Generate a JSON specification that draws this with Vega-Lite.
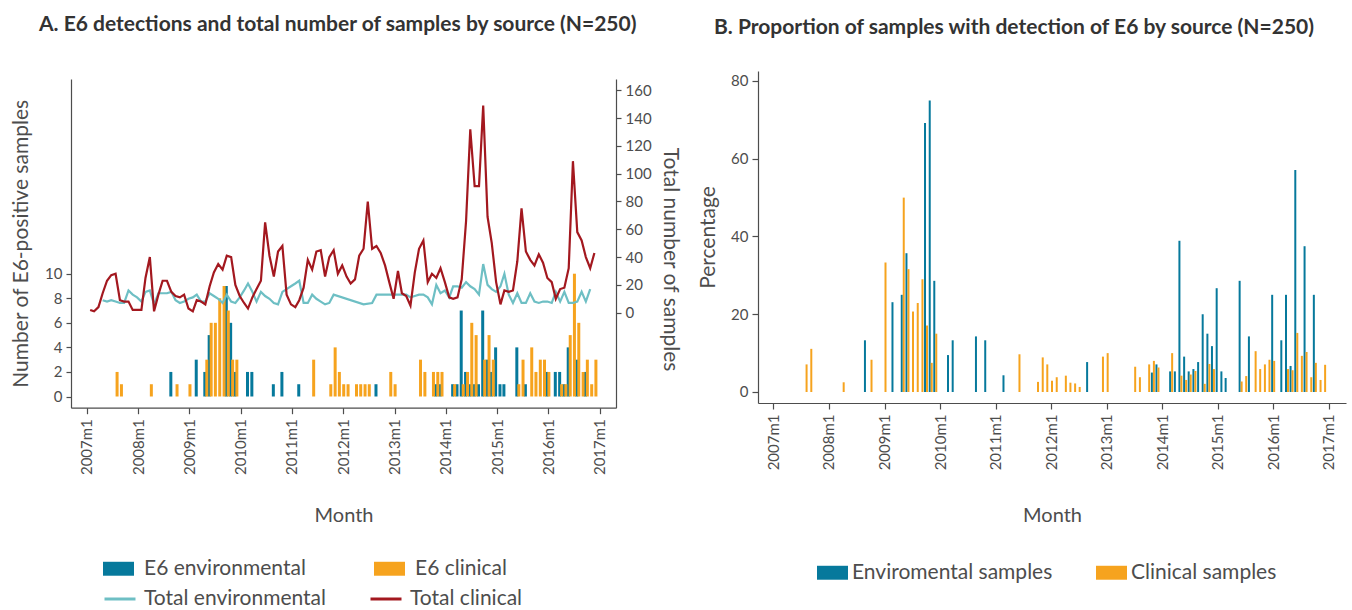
{
  "$schema": "https://vega.github.io/schema/vega-lite/v6.json",
  "background": "white",
  "padding": {"left": 10, "top": 14, "right": 5, "bottom": 0},
  "bounds": "flush",
  "spacing": 142,
  "config": {
    "font": "Lato",
    "view": {"stroke": null},
    "axis": {"grid": false, "domainColor": "#4d4d4d", "tickColor": "#4d4d4d", "labelColor": "#4d4d4d", "titleColor": "#4d4d4d", "titleFontWeight": "normal", "labelFont": "Lato", "titleFont": "Lato", "labelFontSize": 15, "titleFontSize": 21, "domainWidth": 1.2, "tickWidth": 1.2},
    "legend": {"labelFont": "Lato", "labelFontSize": 21, "labelColor": "#4d4d4d", "labelLimit": 400},
    "title": {"font": "Lato", "fontSize": 21, "fontWeight": "bold", "color": "#333333"}
  },
  "datasets": {
    "detections": [
      {"month": "2008-09-01", "source": "E6 environmental", "count": 2},
      {"month": "2009-03-01", "source": "E6 environmental", "count": 3},
      {"month": "2009-05-01", "source": "E6 environmental", "count": 2},
      {"month": "2009-06-01", "source": "E6 environmental", "count": 5},
      {"month": "2009-10-01", "source": "E6 environmental", "count": 9},
      {"month": "2009-11-01", "source": "E6 environmental", "count": 6},
      {"month": "2009-12-01", "source": "E6 environmental", "count": 2},
      {"month": "2010-03-01", "source": "E6 environmental", "count": 2},
      {"month": "2010-04-01", "source": "E6 environmental", "count": 2},
      {"month": "2010-09-01", "source": "E6 environmental", "count": 1},
      {"month": "2010-11-01", "source": "E6 environmental", "count": 2},
      {"month": "2011-03-01", "source": "E6 environmental", "count": 1},
      {"month": "2012-09-01", "source": "E6 environmental", "count": 1},
      {"month": "2013-11-01", "source": "E6 environmental", "count": 1},
      {"month": "2013-12-01", "source": "E6 environmental", "count": 1},
      {"month": "2014-03-01", "source": "E6 environmental", "count": 1},
      {"month": "2014-04-01", "source": "E6 environmental", "count": 1},
      {"month": "2014-05-01", "source": "E6 environmental", "count": 7},
      {"month": "2014-06-01", "source": "E6 environmental", "count": 2},
      {"month": "2014-07-01", "source": "E6 environmental", "count": 1},
      {"month": "2014-08-01", "source": "E6 environmental", "count": 1},
      {"month": "2014-09-01", "source": "E6 environmental", "count": 1},
      {"month": "2014-10-01", "source": "E6 environmental", "count": 7},
      {"month": "2014-11-01", "source": "E6 environmental", "count": 3},
      {"month": "2014-12-01", "source": "E6 environmental", "count": 2},
      {"month": "2015-01-01", "source": "E6 environmental", "count": 4},
      {"month": "2015-02-01", "source": "E6 environmental", "count": 1},
      {"month": "2015-03-01", "source": "E6 environmental", "count": 1},
      {"month": "2015-06-01", "source": "E6 environmental", "count": 4},
      {"month": "2015-08-01", "source": "E6 environmental", "count": 1},
      {"month": "2016-01-01", "source": "E6 environmental", "count": 2},
      {"month": "2016-03-01", "source": "E6 environmental", "count": 2},
      {"month": "2016-04-01", "source": "E6 environmental", "count": 2},
      {"month": "2016-05-01", "source": "E6 environmental", "count": 1},
      {"month": "2016-06-01", "source": "E6 environmental", "count": 4},
      {"month": "2016-08-01", "source": "E6 environmental", "count": 3},
      {"month": "2016-10-01", "source": "E6 environmental", "count": 2},
      {"month": "2007-08-01", "source": "E6 clinical", "count": 2},
      {"month": "2007-09-01", "source": "E6 clinical", "count": 1},
      {"month": "2008-04-01", "source": "E6 clinical", "count": 1},
      {"month": "2008-10-01", "source": "E6 clinical", "count": 1},
      {"month": "2009-01-01", "source": "E6 clinical", "count": 1},
      {"month": "2009-05-01", "source": "E6 clinical", "count": 3},
      {"month": "2009-06-01", "source": "E6 clinical", "count": 6},
      {"month": "2009-07-01", "source": "E6 clinical", "count": 6},
      {"month": "2009-08-01", "source": "E6 clinical", "count": 8},
      {"month": "2009-09-01", "source": "E6 clinical", "count": 9},
      {"month": "2009-10-01", "source": "E6 clinical", "count": 7},
      {"month": "2009-11-01", "source": "E6 clinical", "count": 3},
      {"month": "2009-12-01", "source": "E6 clinical", "count": 3},
      {"month": "2011-06-01", "source": "E6 clinical", "count": 3},
      {"month": "2011-10-01", "source": "E6 clinical", "count": 1},
      {"month": "2011-11-01", "source": "E6 clinical", "count": 4},
      {"month": "2011-12-01", "source": "E6 clinical", "count": 2},
      {"month": "2012-01-01", "source": "E6 clinical", "count": 1},
      {"month": "2012-02-01", "source": "E6 clinical", "count": 1},
      {"month": "2012-04-01", "source": "E6 clinical", "count": 1},
      {"month": "2012-05-01", "source": "E6 clinical", "count": 1},
      {"month": "2012-06-01", "source": "E6 clinical", "count": 1},
      {"month": "2012-07-01", "source": "E6 clinical", "count": 1},
      {"month": "2012-12-01", "source": "E6 clinical", "count": 2},
      {"month": "2013-01-01", "source": "E6 clinical", "count": 1},
      {"month": "2013-07-01", "source": "E6 clinical", "count": 3},
      {"month": "2013-08-01", "source": "E6 clinical", "count": 2},
      {"month": "2013-10-01", "source": "E6 clinical", "count": 2},
      {"month": "2013-11-01", "source": "E6 clinical", "count": 2},
      {"month": "2013-12-01", "source": "E6 clinical", "count": 2},
      {"month": "2014-03-01", "source": "E6 clinical", "count": 1},
      {"month": "2014-05-01", "source": "E6 clinical", "count": 1},
      {"month": "2014-06-01", "source": "E6 clinical", "count": 2},
      {"month": "2014-07-01", "source": "E6 clinical", "count": 6},
      {"month": "2014-08-01", "source": "E6 clinical", "count": 5},
      {"month": "2014-10-01", "source": "E6 clinical", "count": 3},
      {"month": "2014-11-01", "source": "E6 clinical", "count": 5},
      {"month": "2014-12-01", "source": "E6 clinical", "count": 3},
      {"month": "2015-06-01", "source": "E6 clinical", "count": 1},
      {"month": "2015-07-01", "source": "E6 clinical", "count": 3},
      {"month": "2015-09-01", "source": "E6 clinical", "count": 4},
      {"month": "2015-10-01", "source": "E6 clinical", "count": 2},
      {"month": "2015-11-01", "source": "E6 clinical", "count": 3},
      {"month": "2015-12-01", "source": "E6 clinical", "count": 3},
      {"month": "2016-01-01", "source": "E6 clinical", "count": 2},
      {"month": "2016-04-01", "source": "E6 clinical", "count": 1},
      {"month": "2016-05-01", "source": "E6 clinical", "count": 1},
      {"month": "2016-06-01", "source": "E6 clinical", "count": 5},
      {"month": "2016-07-01", "source": "E6 clinical", "count": 10},
      {"month": "2016-08-01", "source": "E6 clinical", "count": 6},
      {"month": "2016-09-01", "source": "E6 clinical", "count": 2},
      {"month": "2016-10-01", "source": "E6 clinical", "count": 3},
      {"month": "2016-11-01", "source": "E6 clinical", "count": 1},
      {"month": "2016-12-01", "source": "E6 clinical", "count": 3}
    ],
    "totals": [
      {"month": "2007-05-01", "series": "Total environmental", "n": 9},
      {"month": "2007-06-01", "series": "Total environmental", "n": 8},
      {"month": "2007-07-01", "series": "Total environmental", "n": 9},
      {"month": "2007-08-01", "series": "Total environmental", "n": 8},
      {"month": "2007-09-01", "series": "Total environmental", "n": 7},
      {"month": "2007-10-01", "series": "Total environmental", "n": 7},
      {"month": "2007-11-01", "series": "Total environmental", "n": 16},
      {"month": "2007-12-01", "series": "Total environmental", "n": 13},
      {"month": "2008-01-01", "series": "Total environmental", "n": 11},
      {"month": "2008-02-01", "series": "Total environmental", "n": 8},
      {"month": "2008-03-01", "series": "Total environmental", "n": 15},
      {"month": "2008-04-01", "series": "Total environmental", "n": 16},
      {"month": "2008-05-01", "series": "Total environmental", "n": 6},
      {"month": "2008-06-01", "series": "Total environmental", "n": 14},
      {"month": "2008-07-01", "series": "Total environmental", "n": 14},
      {"month": "2008-08-01", "series": "Total environmental", "n": 14},
      {"month": "2008-09-01", "series": "Total environmental", "n": 15},
      {"month": "2008-10-01", "series": "Total environmental", "n": 9},
      {"month": "2008-11-01", "series": "Total environmental", "n": 7},
      {"month": "2008-12-01", "series": "Total environmental", "n": 8},
      {"month": "2009-01-01", "series": "Total environmental", "n": 10},
      {"month": "2009-02-01", "series": "Total environmental", "n": 11},
      {"month": "2009-03-01", "series": "Total environmental", "n": 13},
      {"month": "2009-04-01", "series": "Total environmental", "n": 8},
      {"month": "2009-05-01", "series": "Total environmental", "n": 8},
      {"month": "2009-06-01", "series": "Total environmental", "n": 14},
      {"month": "2009-07-01", "series": "Total environmental", "n": 12},
      {"month": "2009-08-01", "series": "Total environmental", "n": 10},
      {"month": "2009-09-01", "series": "Total environmental", "n": 7},
      {"month": "2009-10-01", "series": "Total environmental", "n": 13},
      {"month": "2009-11-01", "series": "Total environmental", "n": 8},
      {"month": "2009-12-01", "series": "Total environmental", "n": 7},
      {"month": "2010-01-01", "series": "Total environmental", "n": 11},
      {"month": "2010-02-01", "series": "Total environmental", "n": 16},
      {"month": "2010-03-01", "series": "Total environmental", "n": 21},
      {"month": "2010-04-01", "series": "Total environmental", "n": 15},
      {"month": "2010-05-01", "series": "Total environmental", "n": 8},
      {"month": "2010-06-01", "series": "Total environmental", "n": 15},
      {"month": "2010-07-01", "series": "Total environmental", "n": 12},
      {"month": "2010-08-01", "series": "Total environmental", "n": 10},
      {"month": "2010-09-01", "series": "Total environmental", "n": 7},
      {"month": "2010-10-01", "series": "Total environmental", "n": 6},
      {"month": "2010-11-01", "series": "Total environmental", "n": 15},
      {"month": "2010-12-01", "series": "Total environmental", "n": 17},
      {"month": "2011-01-01", "series": "Total environmental", "n": 19},
      {"month": "2011-02-01", "series": "Total environmental", "n": 21},
      {"month": "2011-03-01", "series": "Total environmental", "n": 23},
      {"month": "2011-04-01", "series": "Total environmental", "n": 7},
      {"month": "2011-05-01", "series": "Total environmental", "n": 7},
      {"month": "2011-06-01", "series": "Total environmental", "n": 13},
      {"month": "2011-07-01", "series": "Total environmental", "n": 10},
      {"month": "2011-08-01", "series": "Total environmental", "n": 8},
      {"month": "2011-09-01", "series": "Total environmental", "n": 6},
      {"month": "2011-10-01", "series": "Total environmental", "n": 7},
      {"month": "2011-11-01", "series": "Total environmental", "n": 13},
      {"month": "2012-06-01", "series": "Total environmental", "n": 6},
      {"month": "2012-08-01", "series": "Total environmental", "n": 7},
      {"month": "2012-09-01", "series": "Total environmental", "n": 13},
      {"month": "2012-10-01", "series": "Total environmental", "n": 13},
      {"month": "2012-11-01", "series": "Total environmental", "n": 13},
      {"month": "2012-12-01", "series": "Total environmental", "n": 13},
      {"month": "2013-01-01", "series": "Total environmental", "n": 13},
      {"month": "2013-02-01", "series": "Total environmental", "n": 13},
      {"month": "2013-03-01", "series": "Total environmental", "n": 13},
      {"month": "2013-04-01", "series": "Total environmental", "n": 13},
      {"month": "2013-05-01", "series": "Total environmental", "n": 11},
      {"month": "2013-06-01", "series": "Total environmental", "n": 12},
      {"month": "2013-07-01", "series": "Total environmental", "n": 13},
      {"month": "2013-08-01", "series": "Total environmental", "n": 13},
      {"month": "2013-09-01", "series": "Total environmental", "n": 11},
      {"month": "2013-10-01", "series": "Total environmental", "n": 6},
      {"month": "2013-11-01", "series": "Total environmental", "n": 20},
      {"month": "2013-12-01", "series": "Total environmental", "n": 14},
      {"month": "2014-01-01", "series": "Total environmental", "n": 16},
      {"month": "2014-02-01", "series": "Total environmental", "n": 11},
      {"month": "2014-03-01", "series": "Total environmental", "n": 19},
      {"month": "2014-04-01", "series": "Total environmental", "n": 19},
      {"month": "2014-05-01", "series": "Total environmental", "n": 18},
      {"month": "2014-06-01", "series": "Total environmental", "n": 22},
      {"month": "2014-07-01", "series": "Total environmental", "n": 19},
      {"month": "2014-08-01", "series": "Total environmental", "n": 17},
      {"month": "2014-09-01", "series": "Total environmental", "n": 13},
      {"month": "2014-10-01", "series": "Total environmental", "n": 35},
      {"month": "2014-11-01", "series": "Total environmental", "n": 20},
      {"month": "2014-12-01", "series": "Total environmental", "n": 17},
      {"month": "2015-01-01", "series": "Total environmental", "n": 15},
      {"month": "2015-02-01", "series": "Total environmental", "n": 19},
      {"month": "2015-03-01", "series": "Total environmental", "n": 28},
      {"month": "2015-04-01", "series": "Total environmental", "n": 13},
      {"month": "2015-05-01", "series": "Total environmental", "n": 7},
      {"month": "2015-06-01", "series": "Total environmental", "n": 14},
      {"month": "2015-07-01", "series": "Total environmental", "n": 7},
      {"month": "2015-08-01", "series": "Total environmental", "n": 7},
      {"month": "2015-09-01", "series": "Total environmental", "n": 14},
      {"month": "2015-10-01", "series": "Total environmental", "n": 8},
      {"month": "2015-11-01", "series": "Total environmental", "n": 7},
      {"month": "2015-12-01", "series": "Total environmental", "n": 8},
      {"month": "2016-01-01", "series": "Total environmental", "n": 8},
      {"month": "2016-02-01", "series": "Total environmental", "n": 7},
      {"month": "2016-03-01", "series": "Total environmental", "n": 15},
      {"month": "2016-04-01", "series": "Total environmental", "n": 8},
      {"month": "2016-05-01", "series": "Total environmental", "n": 15},
      {"month": "2016-06-01", "series": "Total environmental", "n": 7},
      {"month": "2016-07-01", "series": "Total environmental", "n": 7},
      {"month": "2016-08-01", "series": "Total environmental", "n": 8},
      {"month": "2016-09-01", "series": "Total environmental", "n": 15},
      {"month": "2016-10-01", "series": "Total environmental", "n": 8},
      {"month": "2016-11-01", "series": "Total environmental", "n": 17},
      {"month": "2007-02-01", "series": "Total clinical", "n": 2},
      {"month": "2007-03-01", "series": "Total clinical", "n": 1},
      {"month": "2007-04-01", "series": "Total clinical", "n": 4},
      {"month": "2007-05-01", "series": "Total clinical", "n": 14},
      {"month": "2007-06-01", "series": "Total clinical", "n": 23},
      {"month": "2007-07-01", "series": "Total clinical", "n": 27},
      {"month": "2007-08-01", "series": "Total clinical", "n": 28},
      {"month": "2007-09-01", "series": "Total clinical", "n": 9},
      {"month": "2007-10-01", "series": "Total clinical", "n": 8},
      {"month": "2007-11-01", "series": "Total clinical", "n": 8},
      {"month": "2007-12-01", "series": "Total clinical", "n": 2},
      {"month": "2008-01-01", "series": "Total clinical", "n": 2},
      {"month": "2008-02-01", "series": "Total clinical", "n": 2},
      {"month": "2008-03-01", "series": "Total clinical", "n": 25},
      {"month": "2008-04-01", "series": "Total clinical", "n": 40},
      {"month": "2008-05-01", "series": "Total clinical", "n": 1},
      {"month": "2008-06-01", "series": "Total clinical", "n": 13},
      {"month": "2008-07-01", "series": "Total clinical", "n": 23},
      {"month": "2008-08-01", "series": "Total clinical", "n": 23},
      {"month": "2008-09-01", "series": "Total clinical", "n": 15},
      {"month": "2008-10-01", "series": "Total clinical", "n": 12},
      {"month": "2008-11-01", "series": "Total clinical", "n": 11},
      {"month": "2008-12-01", "series": "Total clinical", "n": 13},
      {"month": "2009-01-01", "series": "Total clinical", "n": 3},
      {"month": "2009-02-01", "series": "Total clinical", "n": 1},
      {"month": "2009-03-01", "series": "Total clinical", "n": 9},
      {"month": "2009-04-01", "series": "Total clinical", "n": 8},
      {"month": "2009-05-01", "series": "Total clinical", "n": 6},
      {"month": "2009-06-01", "series": "Total clinical", "n": 19},
      {"month": "2009-07-01", "series": "Total clinical", "n": 29},
      {"month": "2009-08-01", "series": "Total clinical", "n": 35},
      {"month": "2009-09-01", "series": "Total clinical", "n": 31},
      {"month": "2009-10-01", "series": "Total clinical", "n": 41},
      {"month": "2009-11-01", "series": "Total clinical", "n": 40},
      {"month": "2009-12-01", "series": "Total clinical", "n": 20},
      {"month": "2010-01-01", "series": "Total clinical", "n": 12},
      {"month": "2010-02-01", "series": "Total clinical", "n": 7},
      {"month": "2010-03-01", "series": "Total clinical", "n": 3},
      {"month": "2010-04-01", "series": "Total clinical", "n": 11},
      {"month": "2010-05-01", "series": "Total clinical", "n": 17},
      {"month": "2010-06-01", "series": "Total clinical", "n": 23},
      {"month": "2010-07-01", "series": "Total clinical", "n": 65},
      {"month": "2010-08-01", "series": "Total clinical", "n": 41},
      {"month": "2010-09-01", "series": "Total clinical", "n": 26},
      {"month": "2010-10-01", "series": "Total clinical", "n": 44},
      {"month": "2010-11-01", "series": "Total clinical", "n": 48},
      {"month": "2010-12-01", "series": "Total clinical", "n": 13},
      {"month": "2011-01-01", "series": "Total clinical", "n": 6},
      {"month": "2011-02-01", "series": "Total clinical", "n": 4},
      {"month": "2011-03-01", "series": "Total clinical", "n": 9},
      {"month": "2011-04-01", "series": "Total clinical", "n": 18},
      {"month": "2011-05-01", "series": "Total clinical", "n": 38},
      {"month": "2011-06-01", "series": "Total clinical", "n": 31},
      {"month": "2011-07-01", "series": "Total clinical", "n": 44},
      {"month": "2011-08-01", "series": "Total clinical", "n": 45},
      {"month": "2011-09-01", "series": "Total clinical", "n": 26},
      {"month": "2011-10-01", "series": "Total clinical", "n": 40},
      {"month": "2011-11-01", "series": "Total clinical", "n": 45},
      {"month": "2011-12-01", "series": "Total clinical", "n": 28},
      {"month": "2012-01-01", "series": "Total clinical", "n": 34},
      {"month": "2012-02-01", "series": "Total clinical", "n": 26},
      {"month": "2012-03-01", "series": "Total clinical", "n": 21},
      {"month": "2012-04-01", "series": "Total clinical", "n": 24},
      {"month": "2012-05-01", "series": "Total clinical", "n": 41},
      {"month": "2012-06-01", "series": "Total clinical", "n": 46},
      {"month": "2012-07-01", "series": "Total clinical", "n": 80},
      {"month": "2012-08-01", "series": "Total clinical", "n": 46},
      {"month": "2012-09-01", "series": "Total clinical", "n": 48},
      {"month": "2012-10-01", "series": "Total clinical", "n": 43},
      {"month": "2012-11-01", "series": "Total clinical", "n": 34},
      {"month": "2012-12-01", "series": "Total clinical", "n": 22},
      {"month": "2013-01-01", "series": "Total clinical", "n": 10},
      {"month": "2013-02-01", "series": "Total clinical", "n": 30},
      {"month": "2013-03-01", "series": "Total clinical", "n": 14},
      {"month": "2013-04-01", "series": "Total clinical", "n": 12},
      {"month": "2013-05-01", "series": "Total clinical", "n": 5},
      {"month": "2013-06-01", "series": "Total clinical", "n": 29},
      {"month": "2013-07-01", "series": "Total clinical", "n": 46},
      {"month": "2013-08-01", "series": "Total clinical", "n": 52},
      {"month": "2013-09-01", "series": "Total clinical", "n": 22},
      {"month": "2013-10-01", "series": "Total clinical", "n": 28},
      {"month": "2013-11-01", "series": "Total clinical", "n": 25},
      {"month": "2013-12-01", "series": "Total clinical", "n": 32},
      {"month": "2014-01-01", "series": "Total clinical", "n": 22},
      {"month": "2014-02-01", "series": "Total clinical", "n": 11},
      {"month": "2014-03-01", "series": "Total clinical", "n": 10},
      {"month": "2014-04-01", "series": "Total clinical", "n": 11},
      {"month": "2014-05-01", "series": "Total clinical", "n": 24},
      {"month": "2014-06-01", "series": "Total clinical", "n": 66},
      {"month": "2014-07-01", "series": "Total clinical", "n": 132},
      {"month": "2014-08-01", "series": "Total clinical", "n": 91},
      {"month": "2014-09-01", "series": "Total clinical", "n": 91},
      {"month": "2014-10-01", "series": "Total clinical", "n": 149},
      {"month": "2014-11-01", "series": "Total clinical", "n": 69},
      {"month": "2014-12-01", "series": "Total clinical", "n": 50},
      {"month": "2015-01-01", "series": "Total clinical", "n": 22},
      {"month": "2015-02-01", "series": "Total clinical", "n": 6},
      {"month": "2015-03-01", "series": "Total clinical", "n": 16},
      {"month": "2015-04-01", "series": "Total clinical", "n": 15},
      {"month": "2015-05-01", "series": "Total clinical", "n": 16},
      {"month": "2015-06-01", "series": "Total clinical", "n": 37},
      {"month": "2015-07-01", "series": "Total clinical", "n": 75},
      {"month": "2015-08-01", "series": "Total clinical", "n": 44},
      {"month": "2015-09-01", "series": "Total clinical", "n": 38},
      {"month": "2015-10-01", "series": "Total clinical", "n": 34},
      {"month": "2015-11-01", "series": "Total clinical", "n": 42},
      {"month": "2015-12-01", "series": "Total clinical", "n": 36},
      {"month": "2016-01-01", "series": "Total clinical", "n": 25},
      {"month": "2016-02-01", "series": "Total clinical", "n": 22},
      {"month": "2016-03-01", "series": "Total clinical", "n": 10},
      {"month": "2016-04-01", "series": "Total clinical", "n": 17},
      {"month": "2016-05-01", "series": "Total clinical", "n": 18},
      {"month": "2016-06-01", "series": "Total clinical", "n": 32},
      {"month": "2016-07-01", "series": "Total clinical", "n": 109},
      {"month": "2016-08-01", "series": "Total clinical", "n": 58},
      {"month": "2016-09-01", "series": "Total clinical", "n": 52},
      {"month": "2016-10-01", "series": "Total clinical", "n": 40},
      {"month": "2016-11-01", "series": "Total clinical", "n": 32},
      {"month": "2016-12-01", "series": "Total clinical", "n": 43}
    ],
    "proportions": [
      {"month": "2008-09-01", "source": "Enviromental samples", "pct": 13.3},
      {"month": "2009-03-01", "source": "Enviromental samples", "pct": 23.1},
      {"month": "2009-05-01", "source": "Enviromental samples", "pct": 25},
      {"month": "2009-06-01", "source": "Enviromental samples", "pct": 35.7},
      {"month": "2009-10-01", "source": "Enviromental samples", "pct": 69.2},
      {"month": "2009-11-01", "source": "Enviromental samples", "pct": 75},
      {"month": "2009-12-01", "source": "Enviromental samples", "pct": 28.6},
      {"month": "2010-03-01", "source": "Enviromental samples", "pct": 9.5},
      {"month": "2010-04-01", "source": "Enviromental samples", "pct": 13.3},
      {"month": "2010-09-01", "source": "Enviromental samples", "pct": 14.3},
      {"month": "2010-11-01", "source": "Enviromental samples", "pct": 13.3},
      {"month": "2011-03-01", "source": "Enviromental samples", "pct": 4.3},
      {"month": "2012-09-01", "source": "Enviromental samples", "pct": 7.7},
      {"month": "2013-11-01", "source": "Enviromental samples", "pct": 5},
      {"month": "2013-12-01", "source": "Enviromental samples", "pct": 7.1},
      {"month": "2014-03-01", "source": "Enviromental samples", "pct": 5.3},
      {"month": "2014-04-01", "source": "Enviromental samples", "pct": 5.3},
      {"month": "2014-05-01", "source": "Enviromental samples", "pct": 38.9},
      {"month": "2014-06-01", "source": "Enviromental samples", "pct": 9.1},
      {"month": "2014-07-01", "source": "Enviromental samples", "pct": 5.3},
      {"month": "2014-08-01", "source": "Enviromental samples", "pct": 5.9},
      {"month": "2014-09-01", "source": "Enviromental samples", "pct": 7.7},
      {"month": "2014-10-01", "source": "Enviromental samples", "pct": 20},
      {"month": "2014-11-01", "source": "Enviromental samples", "pct": 15},
      {"month": "2014-12-01", "source": "Enviromental samples", "pct": 11.8},
      {"month": "2015-01-01", "source": "Enviromental samples", "pct": 26.7},
      {"month": "2015-02-01", "source": "Enviromental samples", "pct": 5.3},
      {"month": "2015-03-01", "source": "Enviromental samples", "pct": 3.6},
      {"month": "2015-06-01", "source": "Enviromental samples", "pct": 28.6},
      {"month": "2015-08-01", "source": "Enviromental samples", "pct": 14.3},
      {"month": "2016-01-01", "source": "Enviromental samples", "pct": 25},
      {"month": "2016-03-01", "source": "Enviromental samples", "pct": 13.3},
      {"month": "2016-04-01", "source": "Enviromental samples", "pct": 25},
      {"month": "2016-05-01", "source": "Enviromental samples", "pct": 6.7},
      {"month": "2016-06-01", "source": "Enviromental samples", "pct": 57.1},
      {"month": "2016-08-01", "source": "Enviromental samples", "pct": 37.5},
      {"month": "2016-10-01", "source": "Enviromental samples", "pct": 25},
      {"month": "2007-08-01", "source": "Clinical samples", "pct": 7.1},
      {"month": "2007-09-01", "source": "Clinical samples", "pct": 11.1},
      {"month": "2008-04-01", "source": "Clinical samples", "pct": 2.5},
      {"month": "2008-10-01", "source": "Clinical samples", "pct": 8.3},
      {"month": "2009-01-01", "source": "Clinical samples", "pct": 33.3},
      {"month": "2009-05-01", "source": "Clinical samples", "pct": 50},
      {"month": "2009-06-01", "source": "Clinical samples", "pct": 31.6},
      {"month": "2009-07-01", "source": "Clinical samples", "pct": 20.7},
      {"month": "2009-08-01", "source": "Clinical samples", "pct": 22.9},
      {"month": "2009-09-01", "source": "Clinical samples", "pct": 29},
      {"month": "2009-10-01", "source": "Clinical samples", "pct": 17.1},
      {"month": "2009-11-01", "source": "Clinical samples", "pct": 7.5},
      {"month": "2009-12-01", "source": "Clinical samples", "pct": 15},
      {"month": "2011-06-01", "source": "Clinical samples", "pct": 9.7},
      {"month": "2011-10-01", "source": "Clinical samples", "pct": 2.6},
      {"month": "2011-11-01", "source": "Clinical samples", "pct": 8.9},
      {"month": "2011-12-01", "source": "Clinical samples", "pct": 7.1},
      {"month": "2012-01-01", "source": "Clinical samples", "pct": 2.9},
      {"month": "2012-02-01", "source": "Clinical samples", "pct": 3.8},
      {"month": "2012-04-01", "source": "Clinical samples", "pct": 4.2},
      {"month": "2012-05-01", "source": "Clinical samples", "pct": 2.4},
      {"month": "2012-06-01", "source": "Clinical samples", "pct": 2.2},
      {"month": "2012-07-01", "source": "Clinical samples", "pct": 1.3},
      {"month": "2012-12-01", "source": "Clinical samples", "pct": 9.1},
      {"month": "2013-01-01", "source": "Clinical samples", "pct": 10},
      {"month": "2013-07-01", "source": "Clinical samples", "pct": 6.5},
      {"month": "2013-08-01", "source": "Clinical samples", "pct": 3.8},
      {"month": "2013-10-01", "source": "Clinical samples", "pct": 7.1},
      {"month": "2013-11-01", "source": "Clinical samples", "pct": 8},
      {"month": "2013-12-01", "source": "Clinical samples", "pct": 6.3},
      {"month": "2014-03-01", "source": "Clinical samples", "pct": 10},
      {"month": "2014-05-01", "source": "Clinical samples", "pct": 4.2},
      {"month": "2014-06-01", "source": "Clinical samples", "pct": 3.1},
      {"month": "2014-07-01", "source": "Clinical samples", "pct": 4.5},
      {"month": "2014-08-01", "source": "Clinical samples", "pct": 5.4},
      {"month": "2014-10-01", "source": "Clinical samples", "pct": 2.1},
      {"month": "2014-11-01", "source": "Clinical samples", "pct": 7.2},
      {"month": "2014-12-01", "source": "Clinical samples", "pct": 5.9},
      {"month": "2015-06-01", "source": "Clinical samples", "pct": 2.7},
      {"month": "2015-07-01", "source": "Clinical samples", "pct": 4.1},
      {"month": "2015-09-01", "source": "Clinical samples", "pct": 10.5},
      {"month": "2015-10-01", "source": "Clinical samples", "pct": 5.9},
      {"month": "2015-11-01", "source": "Clinical samples", "pct": 7.1},
      {"month": "2015-12-01", "source": "Clinical samples", "pct": 8.3},
      {"month": "2016-01-01", "source": "Clinical samples", "pct": 8},
      {"month": "2016-04-01", "source": "Clinical samples", "pct": 5.9},
      {"month": "2016-05-01", "source": "Clinical samples", "pct": 5.6},
      {"month": "2016-06-01", "source": "Clinical samples", "pct": 15.2},
      {"month": "2016-07-01", "source": "Clinical samples", "pct": 9.3},
      {"month": "2016-08-01", "source": "Clinical samples", "pct": 10.3},
      {"month": "2016-09-01", "source": "Clinical samples", "pct": 3.8},
      {"month": "2016-10-01", "source": "Clinical samples", "pct": 7.5},
      {"month": "2016-11-01", "source": "Clinical samples", "pct": 3.1},
      {"month": "2016-12-01", "source": "Clinical samples", "pct": 7}
    ]
  },
  "hconcat": [
    {
      "width": 545,
      "height": 336.7,
      "title": {"text": "A. E6 detections and total number of samples by source (N=250)", "anchor": "start", "frame": "group", "dx": -32, "offset": 19, "baseline": "alphabetic"},
      "layer": [
        {
          "layer": [
            {
              "data": {"name": "detections"},
              "transform": [{"filter": "datum.source === 'E6 environmental'"}],
              "mark": {"type": "bar", "size": 3, "xOffset": -1.5},
              "encoding": {
                "x": {"field": "month", "type": "temporal",
                  "scale": {"type": "utc", "domain": [{"year": 2006, "month": 10, "date": 16, "utc": true}, {"year": 2017, "month": 3, "date": 22, "utc": true}]},
                  "axis": {"values": [{"year": 2007, "month": 1, "date": 1, "utc": true}, {"year": 2008, "month": 1, "date": 1, "utc": true}, {"year": 2009, "month": 1, "date": 1, "utc": true}, {"year": 2010, "month": 1, "date": 1, "utc": true}, {"year": 2011, "month": 1, "date": 1, "utc": true}, {"year": 2012, "month": 1, "date": 1, "utc": true}, {"year": 2013, "month": 1, "date": 1, "utc": true}, {"year": 2014, "month": 1, "date": 1, "utc": true}, {"year": 2015, "month": 1, "date": 1, "utc": true}, {"year": 2016, "month": 1, "date": 1, "utc": true}, {"year": 2017, "month": 1, "date": 1, "utc": true}],
                    "format": "%Ym1", "labelAngle": 270, "title": "Month", "titleFontSize": 20, "tickSize": 6, "labelPadding": 5, "titlePadding": 31}},
                "y": {"field": "count", "type": "quantitative",
                  "scale": {"domain": [-0.912, 25.855], "range": [336.7, 8], "nice": false, "zero": false},
                  "axis": {"orient": "left", "values": [0, 2, 4, 6, 8, 10], "title": "Number of E6-positive samples", "tickSize": 5, "labelPadding": 4, "titlePadding": 13}},
                "y2": {"datum": 0},
                "color": {"field": "source", "type": "nominal",
                  "scale": {"domain": ["E6 environmental", "E6 clinical"], "range": ["#06799c", "#f6a31e"]},
                  "legend": {"orient": "none", "legendX": 32, "legendY": 482, "direction": "horizontal", "columns": 2, "columnPadding": 68, "title": null, "symbolType": "M-1,-0.45L1,-0.45L1,0.45L-1,0.45Z", "symbolSize": 961, "symbolStrokeWidth": 0, "labelOffset": 10}}
              }
            },
            {
              "data": {"name": "detections"},
              "transform": [{"filter": "datum.source === 'E6 clinical'"}],
              "mark": {"type": "bar", "size": 3, "xOffset": 0.5},
              "encoding": {
                "x": {"field": "month", "type": "temporal",
                  "scale": {"type": "utc", "domain": [{"year": 2006, "month": 10, "date": 16, "utc": true}, {"year": 2017, "month": 3, "date": 22, "utc": true}]}},
                "y": {"field": "count", "type": "quantitative",
                  "scale": {"domain": [-0.912, 25.855], "range": [336.7, 8], "nice": false, "zero": false}},
                "y2": {"datum": 0},
                "color": {"field": "source", "type": "nominal",
                  "scale": {"domain": ["E6 environmental", "E6 clinical"], "range": ["#06799c", "#f6a31e"]}}
              }
            }
          ]
        },
        {
          "data": {"name": "totals"},
          "mark": {"type": "line", "strokeWidth": 2.2, "xOffset": -1},
          "encoding": {
            "x": {"field": "month", "type": "temporal",
              "scale": {"type": "utc", "domain": [{"year": 2006, "month": 10, "date": 16, "utc": true}, {"year": 2017, "month": 3, "date": 22, "utc": true}]}},
            "y": {"field": "n", "type": "quantitative",
              "scale": {"domain": [-68.35, 168.13], "range": [336.7, 8], "nice": false, "zero": false},
              "axis": {"orient": "right", "values": [0, 20, 40, 60, 80, 100, 120, 140, 160], "title": "Total number of samples", "tickSize": 5, "labelPadding": 4, "titlePadding": 8, "titleY": 188}},
            "color": {"field": "series", "type": "nominal",
              "scale": {"domain": ["Total environmental", "Total clinical"], "range": ["#6ebfc4", "#a3181f"]},
              "legend": {"orient": "none", "legendX": 32, "legendY": 511, "direction": "horizontal", "columns": 2, "columnPadding": 37, "title": null, "symbolType": "stroke", "symbolSize": 961, "symbolStrokeWidth": 3, "labelOffset": 7}}
          }
        }
      ],
      "resolve": {"scale": {"y": "independent", "color": "independent"}}
    },
    {
      "width": 588,
      "height": 332,
      "title": {"text": "B. Proportion of samples with detection of E6 by source (N=250)", "anchor": "start", "frame": "group", "dx": -44, "offset": 16, "baseline": "alphabetic"},
      "layer": [
        {
          "data": {"name": "proportions"},
          "transform": [{"filter": "datum.source === 'Enviromental samples'"}],
          "mark": {"type": "bar", "size": 2, "xOffset": -1},
          "encoding": {
            "x": {"field": "month", "type": "temporal",
              "scale": {"type": "utc", "domain": [{"year": 2006, "month": 10, "date": 25, "utc": true}, {"year": 2017, "month": 3, "date": 22, "utc": true}]},
              "axis": {"values": [{"year": 2007, "month": 1, "date": 1, "utc": true}, {"year": 2008, "month": 1, "date": 1, "utc": true}, {"year": 2009, "month": 1, "date": 1, "utc": true}, {"year": 2010, "month": 1, "date": 1, "utc": true}, {"year": 2011, "month": 1, "date": 1, "utc": true}, {"year": 2012, "month": 1, "date": 1, "utc": true}, {"year": 2013, "month": 1, "date": 1, "utc": true}, {"year": 2014, "month": 1, "date": 1, "utc": true}, {"year": 2015, "month": 1, "date": 1, "utc": true}, {"year": 2016, "month": 1, "date": 1, "utc": true}, {"year": 2017, "month": 1, "date": 1, "utc": true}],
                "format": "%Ym1", "labelAngle": 270, "title": "Month", "titleFontSize": 20, "tickSize": 6, "labelPadding": 5, "titlePadding": 36}},
            "y": {"field": "pct", "type": "quantitative",
              "scale": {"domain": [-2.83, 82.57], "nice": false, "zero": false},
              "axis": {"values": [0, 20, 40, 60, 80], "title": "Percentage", "tickSize": 6, "labelPadding": 4, "titlePadding": 12}},
            "y2": {"datum": 0},
            "color": {"field": "source", "type": "nominal",
              "scale": {"domain": ["Enviromental samples", "Clinical samples"], "range": ["#06799c", "#f6a31e"]},
              "legend": {"orient": "none", "legendX": 746, "legendY": 486, "direction": "horizontal", "columns": 2, "columnPadding": 43, "title": null, "symbolType": "M-1,-0.45L1,-0.45L1,0.45L-1,0.45Z", "symbolSize": 961, "symbolStrokeWidth": 0, "labelOffset": 4}}
          }
        },
        {
          "data": {"name": "proportions"},
          "transform": [{"filter": "datum.source === 'Clinical samples'"}],
          "mark": {"type": "bar", "size": 2, "xOffset": 1},
          "encoding": {
            "x": {"field": "month", "type": "temporal",
              "scale": {"type": "utc", "domain": [{"year": 2006, "month": 10, "date": 25, "utc": true}, {"year": 2017, "month": 3, "date": 22, "utc": true}]}},
            "y": {"field": "pct", "type": "quantitative",
              "scale": {"domain": [-2.83, 82.57], "nice": false, "zero": false}},
            "y2": {"datum": 0},
            "color": {"field": "source", "type": "nominal",
              "scale": {"domain": ["Enviromental samples", "Clinical samples"], "range": ["#06799c", "#f6a31e"]}}
          }
        }
      ]
    }
  ]
}
